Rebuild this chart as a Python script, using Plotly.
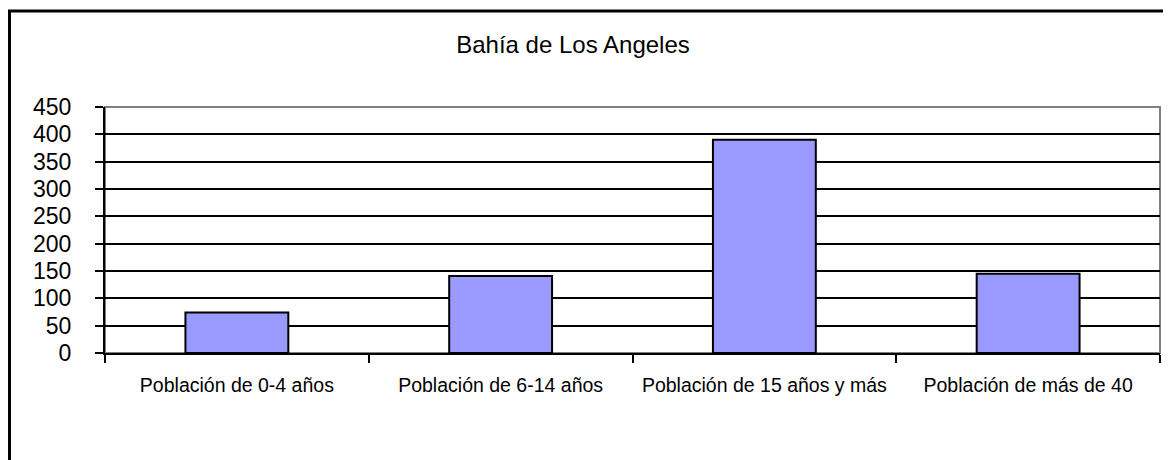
import plotly.graph_objects as go

categories = ["Población de 0-4 años", "Población de 6-14 años",
              "Población de 15 años y más", "Población de más de 40"]
values = [74, 141, 390, 145]
y_ticks = [0, 50, 100, 150, 200, 250, 300, 350, 400, 450]

# page body has an 8px margin: figure occupies screen (8..1171, 8..460)
W, H = 1163, 452
L, R, T, B = 97, 11, 99, 107
PW, PH = W - L - R, H - T - B

fig = go.Figure(go.Bar(
    x=categories, y=values,
    marker=dict(color="#9999FF", line=dict(color="black", width=2)),
    width=0.39,
))

FONT = "Liberation Sans, Arial, sans-serif"

fig.update_layout(
    width=W, height=H,
    margin=dict(l=L, r=R, t=T, b=B, autoexpand=False),
    paper_bgcolor="white", plot_bgcolor="white",
    showlegend=False,
    title=dict(text="Bahía de Los Angeles", x=(573 - 8) / W, xanchor="center",
               y=1 - (45 - 8) / H, yanchor="middle",
               font=dict(family=FONT, size=24, color="black")),
    font=dict(family=FONT, color="black"),
)

fig.update_xaxes(
    type="category",
    showline=True, linecolor="black", linewidth=2,
    ticks="outside", tickson="boundaries", ticklen=8, tickwidth=2, tickcolor="black",
    tickfont=dict(family=FONT, size=19.5, color="black"),
    tickangle=0,
    showgrid=False, zeroline=False,
    ticklabelstandoff=14,
)
fig.update_yaxes(
    range=[0, 450], tickvals=y_ticks,
    showline=True, linecolor="black", linewidth=2,
    ticks="outside", ticklen=8, tickwidth=2, tickcolor="black",
    tickfont=dict(family=FONT, size=23, color="black"),
    showgrid=True, gridcolor="black", gridwidth=2,
    zeroline=False,
    ticklabelstandoff=19,
)

# plot-area border (gray, top and right)
fig.add_shape(type="rect", xref="paper", yref="paper", x0=0, x1=1, y0=0, y1=1,
              line=dict(color="#808080", width=2), layer="below")
# outer chart frame
fig.add_shape(type="rect", xref="paper", yref="paper",
              x0=(1.5 - L) / PW, x1=(W + 20 - L) / PW,
              y0=-(B + 20) / PH, y1=(PH + T - 3) / PH,
              line=dict(color="black", width=3))

fig.write_html("out.html")
